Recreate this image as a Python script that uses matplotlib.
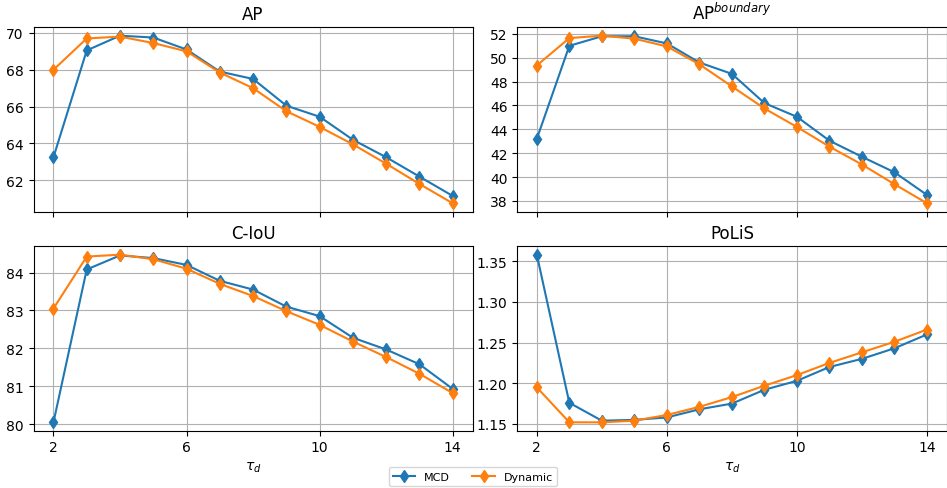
import matplotlib
matplotlib.use("Agg")
import matplotlib.pyplot as plt

tau = [2, 3, 4, 5, 6, 7, 8, 9, 10, 11, 12, 13, 14]

ap_mcd = [63.25, 69.05, 69.85, 69.75, 69.1, 67.9, 67.5, 66.05, 65.45, 64.2, 63.25, 62.2, 61.15]
ap_dyn = [68.0, 69.7, 69.8, 69.45, 69.0, 67.85, 67.0, 65.75, 64.9, 63.95, 62.9, 61.8, 60.75]

apb_mcd = [43.2, 51.0, 51.8, 51.8, 51.2, 49.6, 48.65, 46.2, 45.05, 43.05, 41.7, 40.4, 38.5]
apb_dyn = [49.35, 51.65, 51.85, 51.6, 50.95, 49.45, 47.6, 45.75, 44.2, 42.55, 41.05, 39.4, 37.8]

ciou_mcd = [80.05, 84.08, 84.45, 84.38, 84.2, 83.78, 83.55, 83.1, 82.85, 82.28, 81.97, 81.58, 80.93]
ciou_dyn = [83.05, 84.42, 84.47, 84.35, 84.1, 83.7, 83.38, 82.98, 82.62, 82.18, 81.77, 81.33, 80.82]

polis_mcd = [1.358, 1.176, 1.154, 1.155, 1.158, 1.168, 1.175, 1.192, 1.203, 1.220, 1.230, 1.243, 1.260]
polis_dyn = [1.195, 1.152, 1.152, 1.154, 1.161, 1.171, 1.183, 1.197, 1.210, 1.225, 1.238, 1.251, 1.266]

titles = ["AP", r"AP$^{boundary}$", "C-IoU", "PoLiS"]
series = [(ap_mcd, ap_dyn), (apb_mcd, apb_dyn), (ciou_mcd, ciou_dyn), (polis_mcd, polis_dyn)]
xticks = [2, 6, 10, 14]

W, H = 947.0, 489.0
fig = plt.figure(figsize=(9.47, 4.89), dpi=100)

def px_axes(x0, y0, x1, y1):
    return fig.add_axes([x0 / W, 1 - y1 / H, (x1 - x0) / W, (y1 - y0) / H])

ax_tl = px_axes(33.5, 28.3, 472.7, 212.7)
ax_tr = px_axes(517.3, 28.3, 946.5, 212.7)
ax_bl = px_axes(33.5, 247.3, 472.7, 431.7)
ax_br = px_axes(517.3, 247.3, 946.5, 431.7)
axes = [ax_tl, ax_tr, ax_bl, ax_br]

for ax, title, (m, d) in zip(axes, titles, series):
    ax.plot(tau, m, marker="d", color="#1f77b4", label="MCD")
    ax.plot(tau, d, marker="d", color="#ff7f0e", label="Dynamic")
    ax.set_title(title)
    ax.grid(True)
    ax.set_xticks(xticks)

for ax in (ax_tl, ax_tr):
    ax.tick_params(labelbottom=False)
for ax in (ax_bl, ax_br):
    ax.set_xlabel(r"$\tau_d$")

ax_tl.set_yticks([62, 64, 66, 68, 70])
ax_tr.set_yticks([38, 40, 42, 44, 46, 48, 50, 52])
ax_bl.set_yticks([80, 81, 82, 83, 84])
ax_br.set_yticks([1.15, 1.20, 1.25, 1.30, 1.35])

handles, labels = ax_tl.get_legend_handles_labels()
fig.legend(handles, labels, loc="lower center", ncol=2, fontsize=8,
           bbox_to_anchor=(473 / W, 2 / H), borderaxespad=0)

fig.savefig("out.png", dpi=100)
